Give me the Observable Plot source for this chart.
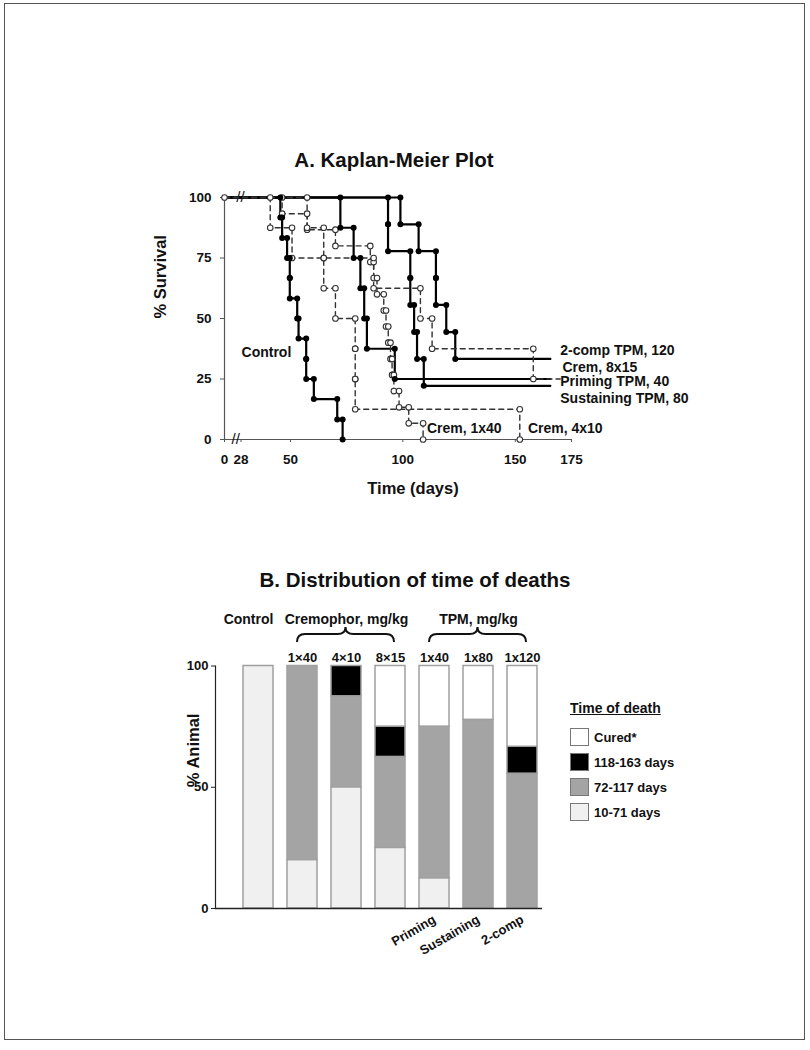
<!DOCTYPE html>
<html><head><meta charset="utf-8">
<script src="https://cdn.jsdelivr.net/npm/d3@7"></script>
<script src="https://cdn.jsdelivr.net/npm/@observablehq/plot@0.6"></script>
<style>
html,body{margin:0;padding:0;background:#fff;}
#page{position:relative;width:810px;height:1050px;overflow:hidden;font-family:"Liberation Sans",Arial,Helvetica,sans-serif;font-weight:bold;color:#111;}
#border{position:absolute;left:4px;top:3px;width:801px;height:1037px;border:1px solid #555;box-sizing:border-box;}
.t{position:absolute;white-space:nowrap;transform:translate(-50%,-50%);}
#chartA{position:absolute;left:0;top:0;}
#chartB{position:absolute;left:0;top:530px;}
#legend{position:absolute;left:570px;top:700px;}
.lt{position:absolute;left:0;top:0;font-size:14px;text-decoration:underline;white-space:nowrap;}
.sw{position:absolute;left:0;width:19px;height:18px;border:1.5px solid #777;box-sizing:border-box;}
.ll{position:absolute;left:24px;font-size:13px;white-space:nowrap;transform:translateY(-50%);}
</style></head>
<body><div id="page">
<div id="border"></div>
<div class="t" style="left:394px;top:160px;font-size:20.5px;">A. Kaplan-Meier Plot</div>
<div class="t" style="left:415px;top:580px;font-size:20.5px;">B. Distribution of time of deaths</div>
<div id="chartA"></div>
<div id="chartB"></div>
<div id="legend"></div>
</div>
<script>
const fontFamily = "'Liberation Sans', Arial, Helvetica, sans-serif";

// ---------- Panel A: Kaplan-Meier data (days of death, survival % after each step)
const controlDays = [45.5, 46.3, 48.5, 49.7, 49.7, 53, 53.6, 57, 57, 60.4, 70.8, 73.2];
const controlSurv = [91.7, 83.3, 75, 66.7, 58.3, 50, 41.7, 33.3, 25, 16.7, 8.3, 0];
const primingDays = [72.2, 78.1, 81.1, 82.8, 84, 96.4];
const primingSurv = [87.5, 75, 62.5, 50, 37.5, 25];
const sustainDays = [93.4, 93.4, 103.3, 103.3, 105, 106.3, 109.3];
const sustainSurv = [88.9, 77.8, 66.7, 55.6, 44.4, 33.3, 22.2];
const twoCompDays = [98.9, 107, 114.7, 114.7, 119.3, 123.3];
const twoCompSurv = [88.9, 77.8, 66.7, 55.6, 44.4, 33.3];
const crem1x40Days = [46.3, 57.4, 70, 85.5, 87, 88.5, 91.5, 92.5, 93.5, 94.5, 95.2, 96, 98.3, 102.6, 109];
const crem1x40Surv = [93.3, 86.7, 80, 73.3, 66.7, 60, 53.3, 46.7, 40, 33.3, 26.7, 20, 13.3, 6.7, 0];
const crem4x10Days = [57.4, 64.8, 64.8, 70, 78.8, 78.8, 78.8, 152];
const crem4x10Surv = [87.5, 75, 62.5, 50, 37.5, 25, 12.5, 0];
const crem8x15Days = [41, 50.7, 87, 107.8, 113, 158];
const crem8x15Surv = [87.5, 75, 62.5, 50, 37.5, 25];
const lastFollowUp = 165.6;
const crem8x15LastFollowUp = 170;

// time axis has a break between 0 and 28 days
const breakStart = 28;
const breakCompression = 0.262;
const xTicksA = [0, 28, 50, 100, 150, 175];
const yTicksA = [0, 25, 50, 75, 100];

const curveLabels = ["2-comp TPM, 120", "Crem, 8x15", "Priming TPM, 40", "Sustaining TPM, 80", "Crem, 1x40", "Crem, 4x10"];
const curveLabelDay = [170, 171, 170, 170, 110.7, 155.6];
const curveLabelPct = [36.8, 29.9, 24, 17.1, 4.7, 4.7];
const controlLabel = ["Control"];
const controlLabelDay = [39.3];
const controlLabelPct = [35.8];
const breakDay = [19, 27];
const breakPct = [0, 100];

// ---------- Panel B data
const groupKeys = ["Control", "Crem 1×40", "Crem 4×10", "Crem 8×15", "TPM 1x40", "TPM 1x80", "TPM 1x120"];
const doseLabels = ["", "1×40", "4×10", "8×15", "1x40", "1x80", "1x120"];
const periods = ["10-71 days", "72-117 days", "118-163 days", "Cured*"];
const periodColors = ["#f0f0f0", "#a4a4a4", "#000000", "#ffffff"];
const early = [100, 20, 50, 25, 12.5, 0, 0];
const mid = [0, 80, 37.5, 37.5, 62.5, 77.8, 55.6];
const late = [0, 0, 12.5, 12.5, 0, 0, 11.1];
const cured = [0, 0, 0, 25, 25, 22.2, 33.3];
const headTexts = ["Cremophor, mg/kg", "TPM, mg/kg"];
const headAt = ["Crem 4×10", "TPM 1x80"];
const subTexts = ["Priming", "Sustaining", "2-comp"];
const subAt = ["TPM 1x40", "TPM 1x80", "TPM 1x120"];
const braceGroups = [["Crem 1×40", "Crem 8×15"], ["TPM 1x40", "TPM 1x120"]];
const yTicksB = [0, 50, 100];

// position along the broken time axis
const pos = day => day >= breakStart ? day : breakStart - (breakStart - day) * breakCompression;

// ---------- build KM step rows
const curves = [
  {name: "Control", days: controlDays, surv: controlSurv, end: null, style: "solid"},
  {name: "Priming TPM, 40", days: primingDays, surv: primingSurv, end: lastFollowUp, style: "solid"},
  {name: "Sustaining TPM, 80", days: sustainDays, surv: sustainSurv, end: lastFollowUp, style: "solid"},
  {name: "2-comp TPM, 120", days: twoCompDays, surv: twoCompSurv, end: lastFollowUp, style: "solid"},
  {name: "Crem, 1x40", days: crem1x40Days, surv: crem1x40Surv, end: null, style: "dashed"},
  {name: "Crem, 4x10", days: crem4x10Days, surv: crem4x10Surv, end: null, style: "dashed"},
  {name: "Crem, 8x15", days: crem8x15Days, surv: crem8x15Surv, end: crem8x15LastFollowUp, style: "dashed"}
];
function kmPoints(c) {
  const pts = [{group: c.name, style: c.style, day: 0, pct: 100, corner: false}];
  let prev = 100;
  c.days.forEach((t, i) => {
    pts.push({group: c.name, style: c.style, day: t, pct: prev, corner: true});
    pts.push({group: c.name, style: c.style, day: t, pct: c.surv[i], corner: true});
    prev = c.surv[i];
  });
  if (c.end != null) pts.push({group: c.name, style: c.style, day: c.end, pct: prev, corner: false});
  return pts;
}
const kmRows = curves.flatMap(kmPoints);
const solidRows = kmRows.filter(d => d.style === "solid");
const dashedRows = kmRows.filter(d => d.style === "dashed");
const origin = kmRows.slice(0, 1);
const X = d => pos(d.day);

const chartA = Plot.plot({
  width: 810, height: 530,
  marginLeft: 224, marginRight: 239, marginTop: 197, marginBottom: 91,
  x: {domain: [pos(0), 175]},
  y: {domain: [0, 100]},
  style: {fontFamily, fontSize: "13.5px", fontWeight: "bold", color: "#111", background: "transparent", overflow: "visible"},
  marks: [
    Plot.ruleX([pos(0)], {stroke: "#555", strokeWidth: 1.2}),
    Plot.ruleY([0], {stroke: "#555", strokeWidth: 1.2}),
    Plot.axisY({ticks: yTicksA, tickSize: 4, tickPadding: 9, label: null, stroke: "#555"}),
    Plot.axisX({ticks: xTicksA.map(pos), tickSize: 3, tickPadding: 12, label: null, stroke: "#555",
      tickFormat: (d, i) => String(xTicksA[i])}),
    Plot.text(breakPct, {x: (d, i) => pos(breakDay[i]), y: d => d, text: () => "//", fontSize: 15, fontWeight: "normal"}),
    Plot.line(solidRows, {x: X, y: "pct", z: "group", stroke: "#000", strokeWidth: 2.2}),
    Plot.line(dashedRows, {x: X, y: "pct", z: "group", stroke: "#333", strokeWidth: 1.4, strokeDasharray: "5,4"}),
    Plot.dot(dashedRows.filter(d => d.corner), {x: X, y: "pct", r: 2.8, fill: "#fff", stroke: "#333", strokeWidth: 1.1}),
    Plot.dot(origin, {x: X, y: "pct", r: 2.8, fill: "#fff", stroke: "#333", strokeWidth: 1.1}),
    Plot.dot(solidRows.filter(d => d.corner), {x: X, y: "pct", r: 3, fill: "#000"}),
    Plot.text(curveLabels, {x: (d, i) => pos(curveLabelDay[i]), y: (d, i) => curveLabelPct[i], text: d => d, textAnchor: "start", fontSize: 14}),
    Plot.text(controlLabel, {x: (d, i) => pos(controlLabelDay[i]), y: (d, i) => controlLabelPct[i], text: d => d, fontSize: 14}),
    Plot.text(["% Survival"], {frameAnchor: "left", dx: -64, rotate: -90, text: d => d, fontSize: 16.5}),
    Plot.text(["Time (days)"], {frameAnchor: "bottom", dx: 15, dy: 54, text: d => d, fontSize: 16.5})
  ]
});
document.getElementById("chartA").appendChild(chartA);

// ---------- Panel B
const periodValues = [early, mid, late, cured];
const rows = [];
groupKeys.forEach((g, i) => periods.forEach((p, j) => {
  const v = periodValues[j][i];
  if (v > 0) rows.push({group: g, period: p, value: v});
}));
const doseOf = new Map(groupKeys.map((g, i) => [g, doseLabels[i]]));

const chartB = Plot.plot({
  width: 810, height: 520,
  marginLeft: 215, marginRight: 268, marginTop: 135.5, marginBottom: 142,
  x: {domain: groupKeys, range: [234.5, 544.8], paddingInner: 0.323, paddingOuter: 0.1615},
  y: {domain: [0, 100]},
  color: {domain: periods, range: periodColors},
  style: {fontFamily, fontSize: "13px", fontWeight: "bold", color: "#111", background: "transparent", overflow: "visible"},
  marks: [
    Plot.barY(rows, {x: "group", y: "value", fill: "period", stroke: "#a0a0a0", strokeWidth: 1.5, order: periods}),
    Plot.ruleY([0], {stroke: "#222", strokeWidth: 1.5}),
    Plot.frame({anchor: "left", stroke: "#222", strokeWidth: 1.2}),
    Plot.axisY({ticks: yTicksB, tickSize: 4, tickPadding: 3, label: null, stroke: "#222"}),
    Plot.axisX({anchor: "top", tickSize: 0, tickPadding: 4, label: null, tickFormat: d => doseOf.get(d)}),
    Plot.text(["Control"], {x: () => "Control", frameAnchor: "top", dx: -10, dy: -52, text: d => d, fontSize: 14}),
    Plot.text(headTexts, {x: (d, i) => headAt[i], frameAnchor: "top", dy: -52, text: d => d, fontSize: 14}),
    Plot.text(subTexts, {x: (d, i) => subAt[i], y: 0, dx: 0, dy: 10, rotate: -30, textAnchor: "end", text: d => d, fontSize: 13}),
    Plot.text(["% Animal"], {frameAnchor: "left", dx: -22, rotate: -90, text: d => d, fontSize: 16.5})
  ]
});
document.getElementById("chartB").appendChild(chartB);

// braces above group dose labels, positioned with the chart's own x scale
const xs = chartB.scale("x");
const bw = xs.bandwidth;
braceGroups.forEach(([a, b]) => {
  const x0 = xs.apply(a) + bw / 2 - 5;
  const x1 = xs.apply(b) + bw / 2 + 4;
  const m = (x0 + x1) / 2;
  const yb = 112, ym = 104, yt = 97;
  const p = `M${x0},${yb} Q${x0},${ym} ${x0 + 8},${ym} L${m - 8},${ym} Q${m},${ym} ${m},${yt} Q${m},${ym} ${m + 8},${ym} L${x1 - 8},${ym} Q${x1},${ym} ${x1},${yb}`;
  d3.select(chartB).append("path").attr("d", p).attr("fill", "none").attr("stroke", "#111").attr("stroke-width", 2);
});

// legend
const legend = document.getElementById("legend");
const lt = document.createElement("div");
lt.className = "lt"; lt.textContent = "Time of death";
legend.appendChild(lt);
periods.slice().reverse().forEach((p, i) => {
  const sw = document.createElement("div");
  sw.className = "sw";
  sw.style.top = (28 + i * 25) + "px";
  sw.style.background = periodColors[periods.indexOf(p)];
  legend.appendChild(sw);
  const l = document.createElement("div");
  l.className = "ll";
  l.style.top = (37 + i * 25) + "px";
  l.textContent = p;
  legend.appendChild(l);
});
</script>
</body></html>
